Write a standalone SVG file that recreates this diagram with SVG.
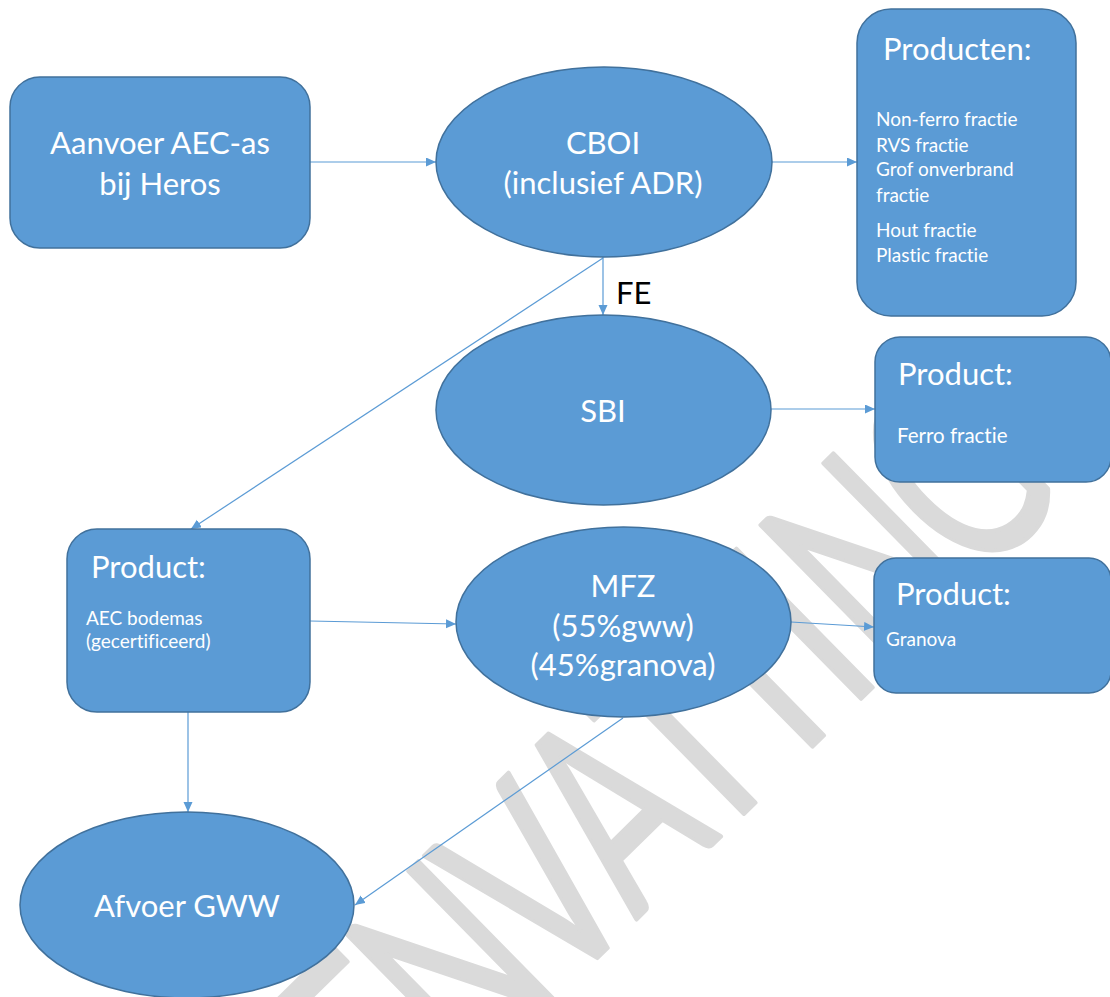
<svg xmlns="http://www.w3.org/2000/svg" width="1110" height="997" viewBox="0 0 1110 997">
  <defs>
    <style>
      .node { fill: #5b9bd5; stroke: #41719c; stroke-width: 1.5; }
      .lbl { fill: #ffffff; font-family: Lato, "Open Sans", sans-serif; font-variant-ligatures: none; }
      .big { font-size: 31px; }
      .small { font-size: 19px; }
      .mid { text-anchor: middle; }
      .edge { stroke: #5b9bd5; stroke-width: 1.2; fill: none; marker-end: url(#arrow); }
      .mark { fill: #dadada; stroke: #dadada; stroke-width: 3; stroke-linejoin: round; font-family: Lato, "Open Sans", sans-serif; font-size: 178px; font-variant-ligatures: none; }
    </style>
    <marker id="arrow" markerUnits="userSpaceOnUse" markerWidth="11" markerHeight="10" refX="10" refY="4.5" orient="auto">
      <path d="M0,0 L10,4.5 L0,9 Z" fill="#5b9bd5"/>
    </marker>
  </defs>

  <rect width="1110" height="997" fill="#ffffff"/>

  <!-- background watermark, stretched and turned along the page diagonal -->
  <text class="mark" transform="translate(600,955) rotate(-44.5) scale(1,1.52)" x="-650 -559 -446 -279 -183 -57 50 157 253 349 399 527" y="0">SAMENVATTING</text>

  <!-- connectors -->
  <g id="connectors">
    <path class="edge" d="M310,162 H436"/>
    <path class="edge" d="M772,162 H857"/>
    <path class="edge" d="M603,257 V315"/>
    <path class="edge" d="M603,258 L191,529"/>
    <path class="edge" d="M771,409 H875"/>
    <path class="edge" d="M310,621 L456,624"/>
    <path class="edge" d="M791,622 L874,627"/>
    <path class="edge" d="M188,712 V812"/>
    <path class="edge" d="M623,718 L355,905"/>
  </g>
  <text x="616" y="304" font-family="Lato, 'Open Sans', sans-serif" font-size="31" fill="#000000">FE</text>

  <g id="aanvoer">
    <rect class="node" x="10" y="77" width="300" height="171" rx="30"/>
    <text class="lbl big mid" x="160" y="154">Aanvoer AEC-as</text>
    <text class="lbl big mid" x="160" y="195">bij Heros</text>
  </g>

  <g id="cboi">
    <ellipse class="node" cx="604" cy="162" rx="168" ry="95"/>
    <text class="lbl big mid" x="603" y="154">CBOI</text>
    <text class="lbl big mid" x="603" y="194">(inclusief ADR)</text>
  </g>

  <g id="producten">
    <rect class="node" x="857" y="9" width="219" height="307" rx="34"/>
    <text class="lbl big" x="883" y="60">Producten:</text>
    <text class="lbl small" x="876" y="126">Non-ferro fractie</text>
    <text class="lbl small" x="876" y="152">RVS fractie</text>
    <text class="lbl small" x="876" y="176">Grof onverbrand</text>
    <text class="lbl small" x="876" y="202">fractie</text>
    <text class="lbl small" x="876" y="237">Hout fractie</text>
    <text class="lbl small" x="876" y="262">Plastic fractie</text>
  </g>

  <g id="sbi">
    <ellipse class="node" cx="603.5" cy="410" rx="167.5" ry="95"/>
    <text class="lbl big mid" x="603" y="422">SBI</text>
  </g>

  <g id="product-ferro">
    <rect class="node" x="875" y="337" width="236" height="145" rx="25"/>
    <text class="lbl big" x="898" y="385">Product:</text>
    <text class="lbl" x="897" y="443" font-size="20.5">Ferro fractie</text>
  </g>

  <g id="product-bodemas">
    <rect class="node" x="67" y="529" width="243" height="183" rx="30"/>
    <text class="lbl big" x="91" y="578">Product:</text>
    <text class="lbl small" x="86" y="625">AEC bodemas</text>
    <text class="lbl small" x="86" y="648">(gecertificeerd)</text>
  </g>

  <g id="mfz">
    <ellipse class="node" cx="623.5" cy="622" rx="167.5" ry="95"/>
    <text class="lbl big mid" x="623" y="597">MFZ</text>
    <text class="lbl big mid" x="623" y="637">(55%gww)</text>
    <text class="lbl big mid" x="623" y="676">(45%granova)</text>
  </g>

  <g id="product-granova">
    <rect class="node" x="874" y="558" width="237" height="135" rx="22"/>
    <text class="lbl big" x="896" y="605">Product:</text>
    <text class="lbl small" x="886" y="646">Granova</text>
  </g>

  <g id="afvoer">
    <ellipse class="node" cx="187" cy="905" rx="167" ry="93"/>
    <text class="lbl big mid" x="187" y="917">Afvoer GWW</text>
  </g>
</svg>
